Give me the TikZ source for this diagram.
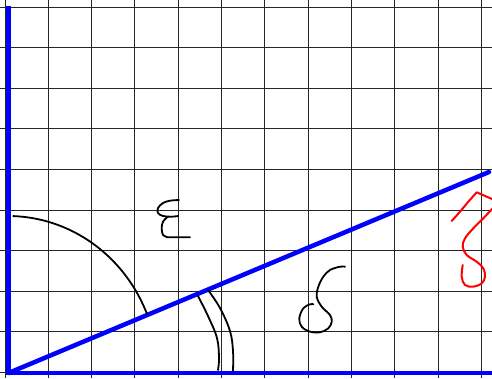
\documentclass[tikz,border=0pt]{standalone}
\begin{document}
\begin{tikzpicture}[x=1pt,y=-1pt,
  gridline/.style={black!85,line width=0.9pt},
  axis/.style={blue,line width=4.5pt},
  ink/.style={black,line width=1.8pt,line cap=round,line join=round},
  redink/.style={red,line width=2pt,line cap=round,line join=round}]
\useasboundingbox (0,0) rectangle (492,378);
\fill[white] (0,0) rectangle (492,378);
% grid
\foreach \k in {0,...,11} {\draw[gridline] ({5+43.3*\k},0) -- ({5+43.3*\k},378);}
\foreach \k in {0,...,9} {\draw[gridline] (0,{7+40.6*\k}) -- (492,{7+40.6*\k});}
% axes
\coordinate (O) at (8.5,373);
\coordinate (T) at (8.5,6);
\coordinate (R) at (492,373);
\coordinate (D) at (489,172);
\draw[axis] (T) -- (O) -- (R);
\draw[axis,line cap=round] (O) -- (D);
% epsilon arc
\draw[ink] plot[domain=88:22,samples=50,smooth] ({8+150*cos(\x)},{373-157*sin(\x)});
% double arc
\draw[ink] plot[smooth,tension=0.6] coordinates {(198,296) (208,316) (217,338) (219,358) (218,370)};
\draw[ink] plot[smooth,tension=0.6] coordinates {(208,290) (220,308) (230,331) (233,351) (233,371)};
% epsilon
\draw[ink] plot[smooth,tension=0.6] coordinates {(179,200) (170,200.7) (163,203) (158,208) (158,213) (163,216) (171.7,216.7) (178,216)};
\draw[ink] plot[smooth,tension=0.6] coordinates {(167.7,216.7) (163,221.7) (161.7,228) (163,235) (168,237.3)} -- (190,237.3);
% delta
\draw[ink] plot[smooth,tension=0.6] coordinates {(345,266.7) (340,266.7) (330,270) (323.3,276.7) (318.3,286.7) (316.7,296.7) (321.7,306.7) (330,315) (331.7,321.7) (328.3,328.3) (320,332.3) (310,331.7) (301.7,326.7) (299.3,318.3) (303.3,308.3) (310,304.3) (313.3,304.3)};
% zeta (red)
\draw[redink] (451.7,221) -- (460,211.7) -- (468.3,201.7) -- (476.7,192.3) -- (492,199);
\draw[redink] plot[smooth,tension=0.6] coordinates {(493,208) (483.3,218.3) (473.3,228.3) (465,238.3) (462.7,246.7) (466.7,255) (476.7,261.7) (483.3,268.3) (485,276.7) (481.7,283.3) (473.3,286.7) (465,285) (461.7,276.7) (462.7,265)};
\end{tikzpicture}
\end{document}
